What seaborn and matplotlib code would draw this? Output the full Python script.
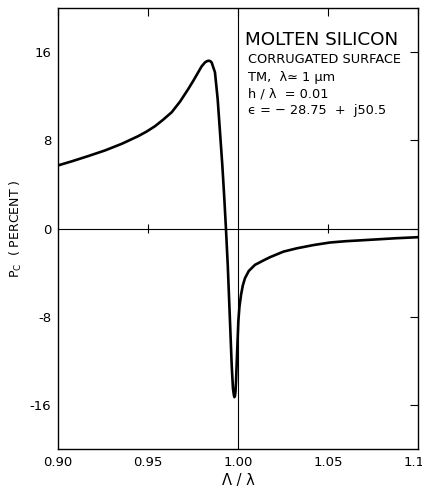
import matplotlib
matplotlib.use("Agg")
import matplotlib.pyplot as plt
import seaborn as sns
import pandas as pd

# Data
ratio = [0.9000, 0.9076, 0.9168, 0.9261, 0.9354, 0.9446, 0.9493, 0.9539, 0.9585,
         0.9632, 0.9678, 0.9724, 0.9752, 0.9779, 0.9798, 0.9817, 0.9828, 0.9837,
         0.9846, 0.9854, 0.9863, 0.9872, 0.9887, 0.9900, 0.9913, 0.9924, 0.9933,
         0.9943, 0.9954, 0.9965, 0.9972, 0.9977, 0.9980, 0.9983, 0.9986, 0.9989,
         0.9996, 1.0002, 1.0008, 1.0017, 1.0027, 1.0039, 1.0060, 1.0094, 1.0141,
         1.0178, 1.0252, 1.0326, 1.0420, 1.0511, 1.0600, 1.0696, 1.0881, 1.1000]
pc = [5.72, 6.09, 6.57, 7.08, 7.68, 8.38, 8.80, 9.28, 9.88,
      10.55, 11.51, 12.66, 13.41, 14.17, 14.71, 15.07, 15.18, 15.22,
      15.18, 15.05, 14.60, 14.17, 11.75, 8.74, 5.72, 2.71, 0.00,
      -3.30, -7.80, -12.40, -14.50, -15.10, -15.30, -15.20, -14.80, -13.90,
      -10.85, -8.40, -7.10, -6.00, -5.15, -4.50, -3.85, -3.30, -2.90,
      -2.60, -2.10, -1.80, -1.50, -1.27, -1.15, -1.06, -0.88, -0.79]

x_ticks = [0.90, 0.95, 1.00, 1.05, 1.10]
x_tick_labels = ["0.90", "0.95", "1.00", "1.05", "1.10"]
y_ticks = [-16, -8, 0, 8, 16]
y_tick_labels = ["-16", "-8", "0", "8", "16"]
zero_line_marks = [0.95, 1.05]

annotation_lines = [
    ("MOLTEN SILICON", 13.2),
    ("CORRUGATED SURFACE", 9.3),
    ("TM,  \u03bb\u2243 1 \u03bcm", 9.3),
    ("h / \u03bb  = 0.01", 9.3),
    ("\u03f5 = \u2212 28.75  +  j50.5", 9.3),
]

df = pd.DataFrame({"ratio": ratio, "pc": pc})

sns.set_style("white")
plt.rcParams["font.family"] = ["DejaVu Sans"]
plt.rcParams["axes.unicode_minus"] = False

fig = plt.figure(figsize=(4.22, 4.91), dpi=100)
ax = fig.add_axes([58 / 422, 42 / 491, 360 / 422, 441 / 491])

sns.lineplot(data=df, x="ratio", y="pc", ax=ax, color="black", linewidth=1.9,
             sort=False, estimator=None)

ax.axhline(0, color="black", linewidth=0.8)
ax.axvline(1.0, color="black", linewidth=0.8)
ax.vlines(zero_line_marks, -0.45, 0.45, color="black", linewidth=0.8)

ax.set_xlim(0.90, 1.10)
ax.set_ylim(-20, 20)
ax.set_xticks(x_ticks)
ax.set_xticklabels(x_tick_labels)
ax.set_yticks(y_ticks)
ax.set_yticklabels(y_tick_labels)
ax.tick_params(axis="both", direction="in", length=6, width=0.8,
               labelsize=9.5, color="black", labelcolor="black",
               top=True, right=True, pad=5)

for s in ax.spines.values():
    s.set_color("black")
    s.set_linewidth(1.0)

ax.set_xlabel("\u039b / \u03bb", fontsize=10.5, labelpad=3, color="black")
ax.set_ylabel("$\\mathregular{P_C}$  ( PERCENT )", fontsize=9, labelpad=4,
              color="black")

y_pos = [16.6, 15.0, 13.4, 11.9, 10.4]
x_pos = [1.0039, 1.0055, 1.0055, 1.0055, 1.0055]
for (txt, fs), yy, xx in zip(annotation_lines, y_pos, x_pos):
    ax.text(xx, yy, txt, fontsize=fs, color="black", ha="left", va="baseline")

fig.savefig("out.png", dpi=100)
